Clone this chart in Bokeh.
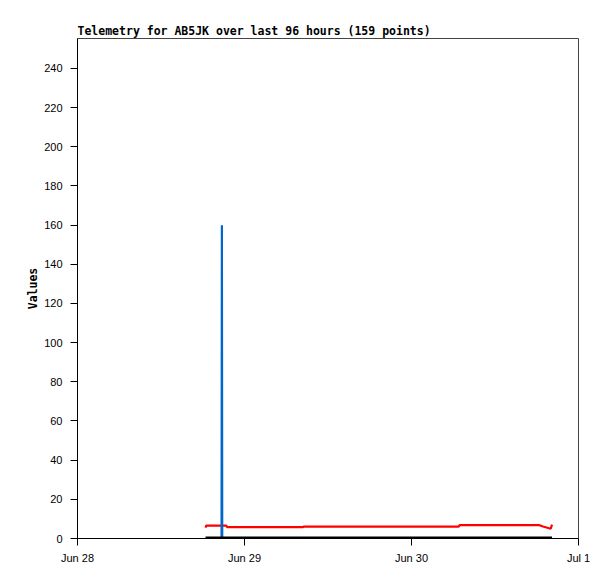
import pandas as pd
from bokeh.plotting import figure
from bokeh.models import Range1d, FixedTicker
from bokeh.embed import file_html
from bokeh.resources import INLINE

# readings (times), year is not shown so any year works
red_times = ["2023-06-28 18:24", "2023-06-28 18:30", "2023-06-28 21:24", "2023-06-28 21:30",
             "2023-06-29 08:24", "2023-06-29 08:30", "2023-06-30 06:48", "2023-06-30 06:54",
             "2023-06-30 18:24", "2023-06-30 18:54", "2023-06-30 19:24", "2023-06-30 20:00",
             "2023-06-30 20:12"]
red_vals = [5.6, 6.6, 6.6, 5.8, 5.8, 6.1, 6.1, 6.8, 6.8, 6.1, 5.6, 5.0, 7.1]

blue_times = ["2023-06-28 20:42", "2023-06-28 20:45", "2023-06-28 20:48"]
blue_vals = [0, 160, 0]

black_times = ["2023-06-28 18:24", "2023-06-30 20:12"]
black_vals = [0, 0]

tick_dates = ["2023-06-28", "2023-06-29", "2023-06-30", "2023-07-01"]
tick_labels = ["Jun 28", "Jun 29", "Jun 30", "Jul 1"]

y_ticks = list(range(0, 241, 20))

tick_ms = [pd.Timestamp(d).value // 10**6 for d in tick_dates]

p = figure(width=608, height=578, x_axis_type="datetime",
           output_backend="svg", toolbar_location=None,
           title="Telemetry for AB5JK over last 96 hours (159 points)",
           min_border_left=77, min_border_right=30, min_border_top=38, min_border_bottom=40)
p.x_range = Range1d(pd.Timestamp(tick_dates[0]), pd.Timestamp(tick_dates[-1]))
p.y_range = Range1d(0, 255.3)

p.line(pd.to_datetime(red_times), red_vals, line_color="#ff0000", line_width=2.2)
p.line(pd.to_datetime(blue_times), blue_vals, line_color="#0066cc", line_width=2.2)
p.line(pd.to_datetime(black_times), black_vals, line_color="black", line_width=4)

p.title.text_font = "DejaVu Sans Mono"
p.title.text_font_style = "bold"
p.title.text_font_size = "11.5px"
p.title.text_color = "black"
p.title.standoff = 1
p.title.offset = 0

p.grid.visible = False
p.outline_line_color = "#444444"
p.outline_line_alpha = 1

for ax in (p.xaxis[0], p.yaxis[0]):
    ax.axis_line_color = "black"
    ax.major_tick_line_color = "black"
    ax.major_tick_in = 0
    ax.major_tick_out = 7
    ax.minor_tick_line_color = None
    ax.major_label_text_font = "Liberation Sans"
    ax.major_label_text_font_size = "11px"
    ax.major_label_text_color = "black"

p.xaxis.ticker = FixedTicker(ticks=tick_ms)
p.xaxis.major_label_overrides = {t: lab for t, lab in zip(tick_ms, tick_labels)}
p.xaxis.major_label_standoff = 6

p.yaxis.ticker = FixedTicker(ticks=y_ticks)
p.yaxis.major_label_standoff = 8
p.yaxis.axis_label = "Values"
p.yaxis.axis_label_text_font = "DejaVu Sans Mono"
p.yaxis.axis_label_text_font_style = "bold"
p.yaxis.axis_label_text_font_size = "11.5px"
p.yaxis.axis_label_text_color = "black"
p.yaxis.axis_label_standoff = 1

open("out.html", "w").write(file_html(p, INLINE))
